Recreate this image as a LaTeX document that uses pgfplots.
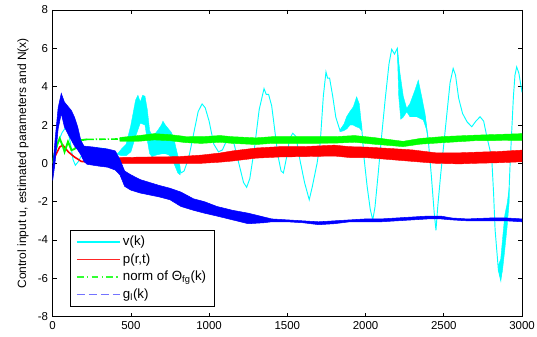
\documentclass[border=0pt]{standalone}
\usepackage{fontspec}
\setmainfont{Liberation Sans}
\usepackage{pgfplots}
\pgfplotsset{compat=1.18}
\definecolor{mcyan}{rgb}{0,1,1}
\definecolor{mred}{rgb}{1,0,0}
\definecolor{mgreen}{rgb}{0,1,0}
\definecolor{mblue}{rgb}{0,0,1}
\begin{document}
\begin{tikzpicture}
\begin{axis}[
 name=ax,
 scale only axis, width=352pt, height=230pt,
 xmin=0, xmax=3000, ymin=-8, ymax=8,
 xtick={0,500,...,3000}, ytick={-8,-6,...,8},
 tick align=inside, major tick length=3pt,
 axis line style={line width=0.6pt},
 tick style={black, line width=0.5pt},
 /pgf/number format/assume math mode=true,
 /pgf/number format/1000 sep={},
 ticklabel style={font=\fontsize{8.6}{10}\selectfont},
 ylabel={Control input u, estimated parameters and N(x)},
 ylabel style={font=\fontsize{9}{10}\selectfont},
 legend style={at={(0.038,0.033)}, anchor=south west, draw=black, line width=0.6pt, fill=white,
   font=\fontsize{10}{11}\selectfont, inner xsep=4pt, inner ysep=2.5pt, row sep=0.3pt},
 legend cell align=left,
 legend image code/.code={\draw[#1] (0pt,0pt) -- (32pt,0pt);},
]
\addlegendimage{draw=mcyan, line width=1pt}
\addlegendentry{v(k)}
\addlegendimage{draw=mred!85, line width=1pt}
\addlegendentry{p(r,t)}
\addlegendimage{draw=mgreen!80, line width=1pt, dash pattern=on 5pt off 2.5pt on 1pt off 2.5pt}
\addlegendentry{norm of Θ\textsubscript{fg}(k)}
\addlegendimage{draw=mblue!55, line width=1pt, dash pattern=on 6pt off 3pt}
\addlegendentry{g\textsubscript{l}(k)}

% v(k) thin line
\addplot[mcyan, line width=0.7pt, forget plot] coordinates {
(0,0)(20,0.6)(40,1.2)(60,1.6)(85,1.9)(100,1.6)(115,1.0)(130,0.2)(145,-0.1)(165,0.1)(190,0.5)(220,0.7)(260,0.78)(300,0.8)(340,0.75)(380,0.6)(420,0.5)
(460,0.6)(500,1.2)(530,2.3)(560,2.9)(590,2.8)(610,1.8)(630,0.9)(660,1.0)(700,1.5)(730,1.4)(760,1.0)(790,0.3)(820,-0.5)(840,-0.4)
(870,0.3)(900,1.5)(930,2.7)(955,3.1)(975,2.9)(1000,2.2)(1030,1.0)(1060,0.6)(1085,0.7)(1110,1.15)(1135,1.35)(1160,1.0)(1190,0.0)(1220,-1.0)(1240,-1.25)(1260,-0.8)(1290,0.8)(1320,2.8)(1351,3.9)(1365,3.6)(1380,3.6)(1400,3.0)(1420,1.7)(1440,0.4)(1460,-0.4)(1475,-0.5)(1495,0.3)(1515,1.3)(1535,1.57)(1555,1.4)(1580,0.2)(1610,-1.0)(1640,-1.9)(1660,-1.2)(1690,0.0)(1710,1.05)(1730,3.5)(1747,4.77)(1757,4.45)(1770,4.45)(1790,3.5)(1810,2.4)(1837,1.7)
(1860,2.0)(1900,2.3)(1943,3.0)(1960,2.6)(1975,1.9)(1990,0.3)(2010,-1.2)(2030,-2.4)(2046,-2.95)(2060,-2.3)(2080,-0.6)(2100,1.2)(2125,3.3)(2150,5.2)(2167,5.95)(2185,5.7)(2203,6.0)
(2225,3.5)(2263,2.8)(2284,2.8)(2316,3.2)(2337,3.5)(2359,3.0)(2380,2.4)(2401,1.2)(2420,-0.6)(2438,-2.5)(2450,-3.5)(2462,-2.2)(2480,-0.6)(2500,1.0)(2520,2.6)(2540,4.2)(2560,4.95)(2575,4.6)(2595,3.4)(2620,2.6)(2650,2.15)(2679,1.91)(2705,2.2)(2732,2.43)(2755,2.2)(2775,1.4)(2795,0.7)(2806,0.35)(2818,-1.5)(2828,-3.47)(2849,-5.56)(2864,-6.08)
(2875,-5.0)(2890,-3.6)(2905,-2.7)(2915,-1.9)(2924,0.0)(2935,1.8)(2945,3.47)(2955,4.6)(2966,5.03)(2980,4.7)(2998,3.82)(3000,3.7)
};
% v(k) oscillating bands
\addplot[mcyan, fill=mcyan, line width=0.3pt, forget plot] coordinates {
(420,0.55)(440,0.75)(470,1.0)(500,2.0)(530,3.3)(545,3.55)(560,3.2)(575,3.55)(590,3.5)(605,2.8)(620,1.7)(640,1.4)(670,1.7)(695,2.0)(705,2.2)(720,2.0)(740,1.8)(760,1.6)(780,1.1)(800,0.4)(815,-0.2)
(815,-0.6)(800,-0.5)(780,-0.1)(760,0.3)(740,0.45)(720,0.5)(700,0.5)(670,0.45)(650,0.4)(635,0.35)(620,0.5)(605,1.2)(590,2.0)(560,2.1)(530,1.4)(500,0.6)(470,0.4)(440,0.4)(420,0.45)
} -- cycle;
\addplot[mcyan, fill=mcyan, line width=0.3pt, forget plot] coordinates {
(1837,1.75)(1860,2.0)(1879,2.43)(1900,2.7)(1922,2.95)(1943,3.47)(1960,3.1)(1975,1.9)
(1975,1.7)(1960,1.85)(1943,1.9)(1920,2.0)(1901,2.0)(1880,1.8)(1860,1.7)(1837,1.65)
} -- cycle;
\addplot[mcyan, fill=mcyan, line width=0.3pt, forget plot] coordinates {
(2203,6.0)(2220,4.7)(2241,3.5)(2263,2.86)(2284,3.12)(2316,3.82)(2337,4.34)(2359,3.47)(2380,2.6)(2401,1.2)
(2391,1.73)(2369,2.26)(2327,2.43)(2284,2.43)(2263,2.69)(2240,2.4)(2225,2.3)(2212,3.5)(2203,5.9)
} -- cycle;
\addplot[mcyan, fill=mcyan, line width=0.3pt, forget plot] coordinates {
(2849,-5.3)(2864,-5.0)(2875,-4.0)(2890,-2.7)(2905,-2.1)(2918,-1.3)
(2918,-2.0)(2905,-3.3)(2890,-4.5)(2875,-5.6)(2864,-6.08)(2849,-5.56)
} -- cycle;

% p(r,t)
\addplot[mred, line width=1.2pt, forget plot] coordinates {
(0,0)(20,0.45)(45,0.85)(65,0.95)(80,0.8)(100,0.6)(136,0.35)(183,0.1)(250,0.05)(320,0.05)(400,0.1)
};
\addplot[mred, fill=mred, line width=0.3pt, forget plot] coordinates {
(350,0.15)(400,0.3)(600,0.33)(800,0.35)(950,0.43)(1070,0.54)(1150,0.65)(1300,0.8)(1450,0.87)(1600,0.87)(1800,0.95)(1900,0.87)(2000,0.85)(2150,0.78)(2300,0.7)(2450,0.55)(2600,0.55)(2700,0.58)(2850,0.62)(3000,0.69)
(3000,0.08)(2850,0.03)(2700,0.0)(2600,-0.03)(2450,0.0)(2300,0.1)(2150,0.2)(2000,0.3)(1900,0.3)(1800,0.38)(1600,0.35)(1450,0.33)(1300,0.27)(1150,0.12)(1070,0.06)(950,0.0)(800,0.0)(600,0.0)(400,0.0)(350,0.0)
} -- cycle;

% norm of Theta
\addplot[mgreen, line width=1.4pt, forget plot] coordinates {
(0,0)(13,0.53)(30,1.0)(45,1.3)(66,0.87)(76,0.6)(98,1.13)(120,0.69)(140,0.75)(165,1.0)(183,1.21)(220,1.25)
};
\addplot[mgreen, line width=1.2pt, dash pattern=on 5pt off 1.5pt on 1pt off 1.5pt, forget plot] coordinates {
(220,1.25)(430,1.27)
};
\addplot[mgreen, fill=mgreen, line width=0.3pt, forget plot] coordinates {
(430,1.35)(550,1.45)(650,1.55)(750,1.5)(850,1.4)(950,1.39)(1070,1.45)(1150,1.39)(1300,1.33)(1400,1.39)(1600,1.39)(1800,1.39)(1930,1.45)(2050,1.35)(2240,1.15)(2350,1.3)(2500,1.4)(2700,1.47)(3000,1.55)
(3000,1.2)(2700,1.18)(2500,1.08)(2350,1.0)(2240,0.87)(2050,1.0)(1930,1.1)(1800,1.05)(1600,1.04)(1400,1.04)(1300,0.98)(1150,1.04)(1070,1.1)(950,1.04)(850,1.08)(750,1.18)(650,1.22)(550,1.15)(430,1.15)
} -- cycle;

% g_l(k)
\addplot[mblue, fill=mblue, line width=0.4pt, forget plot] coordinates {
(0,-0.3)(15,1.2)(35,2.9)(55,3.65)(75,3.2)(100,2.95)(120,2.75)(140,2.4)(160,1.9)(180,1.2)(200,0.9)(260,0.85)(300,0.8)(350,0.75)(400,0.65)(430,0.2)(460,-0.4)(500,-0.6)(560,-0.85)(620,-1.0)(680,-1.15)(750,-1.3)(820,-1.5)(900,-1.85)(970,-2.0)(1050,-2.25)(1150,-2.45)(1250,-2.6)(1350,-2.8)(1400,-2.9)(1500,-2.95)(1600,-3.0)(1700,-3.05)(1800,-3.0)(1900,-2.95)(2000,-2.9)(2100,-2.9)(2200,-2.85)(2300,-2.8)(2400,-2.75)(2480,-2.75)(2550,-2.85)(2650,-2.9)(2800,-2.85)(2900,-2.85)(3000,-2.9)
(3000,-3.05)(2900,-3.0)(2800,-3.0)(2650,-3.0)(2550,-2.95)(2480,-2.9)(2400,-2.9)(2300,-2.95)(2200,-3.0)(2100,-3.05)(2000,-3.05)(1900,-3.05)(1800,-3.15)(1700,-3.2)(1600,-3.1)(1500,-3.05)(1400,-3.05)(1350,-3.1)(1250,-3.15)(1150,-2.95)(1050,-2.75)(970,-2.6)(900,-2.45)(820,-2.25)(750,-1.9)(680,-1.75)(620,-1.65)(560,-1.55)(500,-1.4)(460,-1.2)(430,-0.6)(400,-0.35)(350,-0.2)(300,-0.15)(260,-0.1)(220,-0.05)(200,0.1)(180,0.45)(160,0.7)(140,0.9)(120,1.2)(100,1.5)(75,1.9)(55,2.6)(35,1.8)(15,0.0)(0,-0.9)
} -- cycle;
\end{axis}
\pgfresetboundingbox
\path[use as bounding box] ([xshift=-39.5pt,yshift=-15.2pt]ax.south west) rectangle ([xshift=11.25pt,yshift=7.5pt]ax.north east);
\end{tikzpicture}
\end{document}
